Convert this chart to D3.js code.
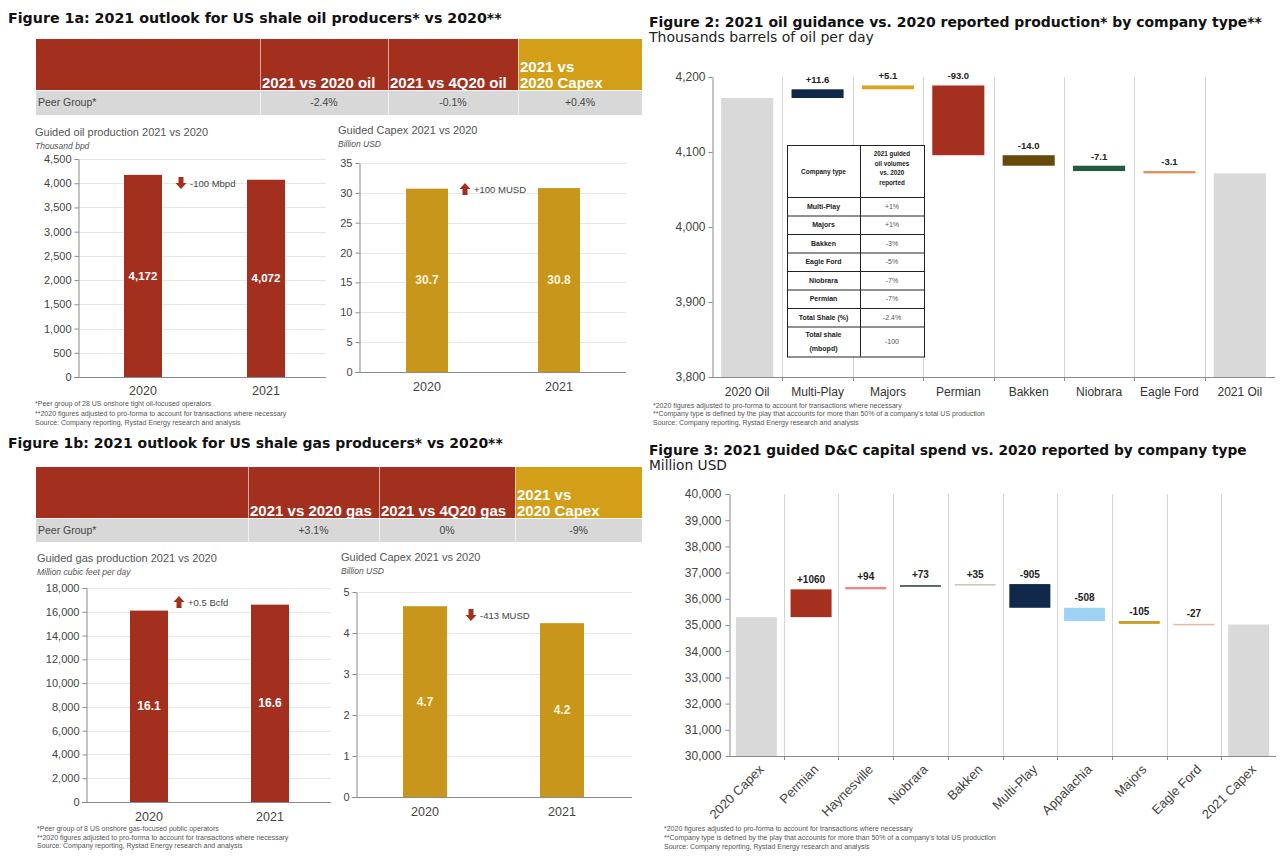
<!DOCTYPE html>
<html>
<head>
<meta charset="utf-8">
<script src="https://cdn.jsdelivr.net/npm/d3@7"></script>
<style>
html,body{margin:0;padding:0;background:#fff;}
svg{display:block;}
</style>
</head>
<body>
<svg id="chart" width="1280" height="860"></svg>
<script>
// ================= DATA =================
const years = ["2020", "2021"];

// Figure 1a – oil producers
const fig1aHeaders = [["2021 vs 2020 oil"], ["2021 vs 4Q20 oil"], ["2021 vs", "2020 Capex"]];
const fig1aPeerGroup = ["-2.4%", "-0.1%", "+0.4%"];
const oilProduction = [4172, 4072];            // thousand bpd
const oilProductionTicks = [0, 500, 1000, 1500, 2000, 2500, 3000, 3500, 4000, 4500];
const oilCapex = [30.7, 30.8];                 // billion USD
const oilCapexTicks = [0, 5, 10, 15, 20, 25, 30, 35];

// Figure 1b – gas producers
const fig1bHeaders = [["2021 vs 2020 gas"], ["2021 vs 4Q20 gas"], ["2021 vs", "2020 Capex"]];
const fig1bPeerGroup = ["+3.1%", "0%", "-9%"];
const gasProduction = [16100, 16600];          // million cubic feet per day
const gasProductionTicks = [0, 2000, 4000, 6000, 8000, 10000, 12000, 14000, 16000, 18000];
const gasCapex = [4.653, 4.240];               // billion USD
const gasCapexTicks = [0, 1, 2, 3, 4, 5];

// Figure 2 – oil guidance waterfall
const fig2Categories = ["2020 Oil", "Multi-Play", "Majors", "Permian", "Bakken", "Niobrara", "Eagle Ford", "2021 Oil"];
const fig2Start = 4172;
const fig2Deltas = [11.6, 5.1, -93.0, -14.0, -7.1, -3.1];
const fig2Colors = ["#10294a", "#d9a41e", "#a5301f", "#654a0c", "#235a44", "#e0915a"];
const fig2Ticks = [3800, 3900, 4000, 4100, 4200];
const fig2TableTypes = ["Multi-Play", "Majors", "Bakken", "Eagle Ford", "Niobrara", "Permian", "Total Shale (%)", "Total shale|(mbopd)"];
const fig2TableValues = ["+1%", "+1%", "-3%", "-5%", "-7%", "-7%", "-2.4%", "-100"];

// Figure 3 – D&C capex waterfall
const fig3Categories = ["2020 Capex", "Permian", "Haynesville", "Niobrara", "Bakken", "Multi-Play", "Appalachia", "Majors", "Eagle Ford", "2021 Capex"];
const fig3Start = 35300;
const fig3Deltas = [1060, 94, 73, 35, -905, -508, -105, -27];
const fig3Colors = ["#a5301f", "#e68a8c", "#56685f", "#c9c6b3", "#10294a", "#9ed3f5", "#c99a1c", "#e8b9a2"];
const fig3Ticks = [30000, 31000, 32000, 33000, 34000, 35000, 36000, 37000, 38000, 39000, 40000];

// ================= STYLE =================
const RED = "#a3301f", GOLD = "#c8961a", HGOLD = "#d39e18", GRAYROW = "#d8d8d8", TOTAL = "#d9d9d9";
const SANS = "'Liberation Sans', Arial, Helvetica, sans-serif";
const VERD = "'DejaVu Sans', Verdana, sans-serif";
const svg = d3.select("#chart");

function txt(g, x, y, s, o = {}) {
  const e = g.append("text").attr("x", x).attr("y", y).text(s)
    .attr("font-family", o.ff || SANS).attr("font-size", o.fs || 11)
    .attr("fill", o.fill || "#404040");
  if (o.fw) e.attr("font-weight", o.fw);
  if (o.it) e.attr("font-style", "italic");
  if (o.anchor) e.attr("text-anchor", o.anchor);
  if (o.fit) {
    const w = e.node().getComputedTextLength();
    if (w > 0) e.attr("font-size", (o.fs || 11) * o.fit / w);
  }
  return e;
}

function arrow(g, cx, cy, dir, color) {
  const p = dir === "down"
    ? `M${cx-2.5},${cy-6}h5v6h3l-5.5,6l-5.5,-6h3z`
    : `M${cx-2.5},${cy+6}h5v-6h3l-5.5,-6l-5.5,6h3z`;
  g.append("path").attr("d", p).attr("fill", color);
}

function styleAxis(sel, fs, fill) {
  sel.attr("font-family", SANS);
  sel.select(".domain").attr("stroke", "#8a8a8a");
  sel.selectAll(".tick line").attr("stroke", "#8a8a8a");
  sel.selectAll(".tick text").attr("font-family", SANS).attr("font-size", fs).attr("fill", fill);
}

function headerTable(g, c) {
  const e = c.edges;
  for (let i = 0; i < 4; i++) {
    g.append("rect").attr("x", e[i]).attr("y", c.top).attr("width", e[i + 1] - e[i]).attr("height", c.mid - c.top)
      .attr("fill", i === 3 ? HGOLD : RED);
    g.append("rect").attr("x", e[i]).attr("y", c.mid).attr("width", e[i + 1] - e[i]).attr("height", c.bottom - c.mid)
      .attr("fill", GRAYROW);
  }
  e.slice(1, 4).forEach(xv => g.append("line").attr("x1", xv + 0.5).attr("x2", xv + 0.5)
    .attr("y1", c.top).attr("y2", c.bottom).attr("stroke", "#fff").attr("stroke-opacity", 0.6));
  g.append("line").attr("x1", e[0]).attr("x2", e[4]).attr("y1", c.mid + 0.5).attr("y2", c.mid + 0.5)
    .attr("stroke", "#fff").attr("stroke-opacity", 0.8);
  c.headers.forEach((lines, i) => {
    lines.forEach((ln, j) => txt(g, e[i + 1] + 2, c.mid - 2.5 - (lines.length - 1 - j) * 16, ln,
      { fs: 15, fw: "bold", fill: "#fff" }));
  });
  const ty = (c.mid + c.bottom) / 2 + 3.5;
  txt(g, e[0] + 2, ty, "Peer Group*", { fs: 10.5, fill: "#444" });
  c.values.forEach((v, i) => txt(g, (e[i + 1] + e[i + 2]) / 2, ty, v, { fs: 10.5, fill: "#444", anchor: "middle" }));
}

function smallChart(g, c) {
  const max = c.ticks[c.ticks.length - 1];
  const y = d3.scaleLinear().domain([0, max]).range([c.y0, c.y1]);
  const x = d3.scaleBand().domain(years).range(c.xr);
  g.selectAll(null).data(c.ticks.slice(1)).join("line")
    .attr("x1", c.ax).attr("x2", c.gx).attr("y1", d => Math.round(y(d)) + 0.5).attr("y2", d => Math.round(y(d)) + 0.5)
    .attr("stroke", "#e6e6e6");
  g.selectAll(null).data(c.values).join("rect")
    .attr("x", (d, i) => x(years[i]) + x.bandwidth() / 2 - c.bw / 2)
    .attr("y", d => y(d)).attr("width", c.bw).attr("height", d => c.y0 - y(d))
    .attr("fill", c.color);
  g.append("line").attr("x1", c.ax - 4).attr("x2", c.gx).attr("y1", c.y0 + 0.5).attr("y2", c.y0 + 0.5).attr("stroke", "#8a8a8a");
  g.append("g").attr("transform", `translate(${c.ax + 0.5},0)`)
    .call(d3.axisLeft(y).tickValues(c.ticks).tickFormat(d3.format(",")).tickSize(4).tickSizeOuter(0).tickPadding(3))
    .call(s => styleAxis(s, 11, "#444"));
  years.forEach((yr, i) => {
    const cx = x(yr) + x.bandwidth() / 2;
    txt(g, cx, c.xlab, yr, { fs: 12.5, fill: "#444", anchor: "middle" });
    const v = c.values[i];
    txt(g, cx, (y(v) + c.y0) / 2 + 4, c.labelFmt(v), { fs: c.lfs, fw: "bold", fill: c.lfill, anchor: "middle" });
  });
  txt(g, c.tx, c.ty, c.title, { fs: 11, fill: "#555" });
  txt(g, c.tx, c.ty + 12.5, c.unit, { fs: 8.5, fill: "#555", it: true });
  arrow(g, c.arrow.x, c.arrow.y, c.arrow.dir, RED);
  txt(g, c.arrow.x + 9, c.arrow.y + 3.5, c.arrow.text, { fs: 9.5, fill: "#444" });
}

function footnotes(g, x, y0, lines, dy) {
  lines.forEach((l, i) => txt(g, x, y0 + i * dy, l, { fs: 7, fill: "#555" }));
}

function waterfall(g, c) {
  const x = d3.scaleBand().domain(c.cats).range(c.xr).paddingInner(0).paddingOuter(0);
  const y = d3.scaleLinear().domain([c.ticks[0], c.ticks[c.ticks.length - 1]]).range([c.y0, c.y1]);
  const bw = x.bandwidth() * c.barFrac;
  // vertical separators
  g.selectAll(null).data(c.cats.slice(1)).join("line")
    .attr("x1", d => Math.round(x(d)) + 0.5).attr("x2", d => Math.round(x(d)) + 0.5)
    .attr("y1", c.y1).attr("y2", c.y0).attr("stroke", "#d4d4d4");
  let run = c.start;
  const items = c.cats.map((k, i) => {
    if (i === 0) return { k, lo: c.ticks[0], hi: c.start, color: TOTAL };
    if (i === c.cats.length - 1) return { k, lo: c.ticks[0], hi: run, color: TOTAL };
    const d = c.deltas[i - 1], a = run;
    run += d;
    return { k, lo: Math.min(a, run), hi: Math.max(a, run), color: c.colors[i - 1], d };
  });
  g.selectAll(null).data(items).join("rect")
    .attr("x", d => x(d.k) + (x.bandwidth() - bw) / 2)
    .attr("y", d => y(d.hi)).attr("width", bw).attr("height", d => Math.max(1.5, y(d.lo) - y(d.hi)))
    .attr("fill", d => d.color);
  items.filter(d => d.d !== undefined).forEach(d => {
    txt(g, x(d.k) + x.bandwidth() / 2, y(d.hi) - c.labelGap, c.deltaFmt(d.d),
      { fs: c.lfs, fw: "bold", fill: "#222", anchor: "middle" });
  });
  // axes
  g.append("g").attr("transform", `translate(${c.xr[0] + 0.5},0)`)
    .call(d3.axisLeft(y).tickValues(c.ticks).tickFormat(d3.format(",")).tickSize(4).tickSizeOuter(0).tickPadding(c.tickPad))
    .call(s => styleAxis(s, c.tfs, "#444"));
  g.append("line").attr("x1", c.xr[0]).attr("x2", c.xr[1]).attr("y1", c.y0 + 0.5).attr("y2", c.y0 + 0.5).attr("stroke", "#8a8a8a");
  g.selectAll(null).data(c.cats.slice(1)).join("line")
    .attr("x1", d => Math.round(x(d)) + 0.5).attr("x2", d => Math.round(x(d)) + 0.5)
    .attr("y1", c.y0).attr("y2", c.y0 + 4).attr("stroke", "#8a8a8a");
  c.cats.forEach(k => {
    const cx = x(k) + x.bandwidth() / 2;
    if (c.rotate) {
      txt(g, 0, 0, k, { fs: c.xfs, fill: "#444", anchor: "end" })
        .attr("transform", `translate(${cx + 5},${c.y0 + 11}) rotate(-45)`).attr("dy", "0.35em");
    } else {
      txt(g, cx, c.xlab, k, { fs: c.xfs, fill: "#333", anchor: "middle" });
    }
  });
  return { x, y };
}

// ================= FIGURE 1a =================
const g1a = svg.append("g");
txt(g1a, 8, 23, "Figure 1a: 2021 outlook for US shale oil producers* vs 2020**", { ff: VERD, fs: 13, fw: "bold", fill: "#111", fit: 494 });
headerTable(g1a, { edges: [36, 260, 388, 518, 642], top: 39, mid: 90, bottom: 115, headers: fig1aHeaders, values: fig1aPeerGroup });
smallChart(g1a, {
  ticks: oilProductionTicks, values: oilProduction, y0: 377, y1: 159, ax: 78, gx: 326, xr: [81.5, 327.5], bw: 38,
  color: RED, labelFmt: d3.format(","), lfs: 11.5, lfill: "#fff", xlab: 395,
  title: "Guided oil production 2021 vs 2020", unit: "Thousand bpd", tx: 35, ty: 136,
  arrow: { dir: "down", x: 181, y: 183, text: "-100 Mbpd" }
});
smallChart(g1a, {
  ticks: oilCapexTicks, values: oilCapex, y0: 372, y1: 163, ax: 359, gx: 626, xr: [361, 625], bw: 42,
  color: GOLD, labelFmt: d3.format(".1f"), lfs: 12, lfill: "#fff6dc", xlab: 391,
  title: "Guided Capex 2021 vs 2020", unit: "Billion USD", tx: 338, ty: 134,
  arrow: { dir: "up", x: 465, y: 189, text: "+100 MUSD" }
});
footnotes(g1a, 35, 406, [
  "*Peer group of 28 US onshore tight oil-focused operators",
  "**2020 figures adjusted to pro-forma to account for transactions where necessary",
  "Source: Company reporting, Rystad Energy research and analysis"], 9.5);

// ================= FIGURE 1b =================
const g1b = svg.append("g");
txt(g1b, 8, 448, "Figure 1b: 2021 outlook for US shale gas producers* vs 2020**", { ff: VERD, fs: 13, fw: "bold", fill: "#111", fit: 495 });
headerTable(g1b, { edges: [36, 248, 379, 515, 642], top: 467, mid: 518, bottom: 542, headers: fig1bHeaders, values: fig1bPeerGroup });
smallChart(g1b, {
  ticks: gasProductionTicks, values: gasProduction, y0: 802, y1: 588, ax: 86, gx: 331, xr: [88.5, 330.5], bw: 38,
  color: RED, labelFmt: v => d3.format(".1f")(v / 1000), lfs: 12, lfill: "#fff", xlab: 821,
  title: "Guided gas production 2021 vs 2020", unit: "Million cubic feet per day", tx: 37, ty: 562,
  arrow: { dir: "up", x: 179, y: 602, text: "+0.5 Bcfd" }
});
smallChart(g1b, {
  ticks: gasCapexTicks, values: gasCapex, y0: 797, y1: 592, ax: 356, gx: 632, xr: [356.5, 630.5], bw: 44,
  color: GOLD, labelFmt: d3.format(".1f"), lfs: 12, lfill: "#fff6dc", xlab: 816,
  title: "Guided Capex 2021 vs 2020", unit: "Billion USD", tx: 341, ty: 561,
  arrow: { dir: "down", x: 471, y: 615, text: "-413 MUSD" }
});
footnotes(g1b, 37, 831, [
  "*Peer group of 8 US onshore gas-focused public operators",
  "**2020 figures adjusted to pro-forma to account for transactions where necessary",
  "Source: Company reporting, Rystad Energy research and analysis"], 8.5);

// ================= FIGURE 2 =================
const g2 = svg.append("g");
txt(g2, 649, 27, "Figure 2: 2021 oil guidance vs. 2020 reported production* by company type**", { ff: VERD, fs: 13, fw: "bold", fill: "#111", fit: 613 });
txt(g2, 649, 42, "Thousands barrels of oil per day", { ff: VERD, fs: 13, fill: "#222", fit: 225 });
waterfall(g2, {
  cats: fig2Categories, start: fig2Start, deltas: fig2Deltas, colors: fig2Colors, ticks: fig2Ticks,
  xr: [712, 1275], y0: 377, y1: 77, barFrac: 0.74, labelGap: 6, lfs: 9.5,
  deltaFmt: v => (v > 0 ? "+" : "-") + Math.abs(v).toFixed(1),
  tfs: 12, tickPad: 3, xfs: 12, xlab: 396, rotate: false
});
// inset table
(function () {
  const tx = [787, 860, 924];
  const top = 145, headBottom = 197, rowH = 18.5;
  const rowsY = [headBottom];
  fig2TableTypes.forEach((t, i) => rowsY.push(rowsY[i] + (i === fig2TableTypes.length - 1 ? 30 : rowH)));
  const bottom = rowsY[rowsY.length - 1];
  g2.append("rect").attr("x", tx[0] + 0.5).attr("y", top + 0.5).attr("width", tx[2] - tx[0]).attr("height", bottom - top)
    .attr("fill", "#fff").attr("stroke", "#222").attr("stroke-width", 1);
  g2.append("line").attr("x1", tx[1] + 0.5).attr("x2", tx[1] + 0.5).attr("y1", top).attr("y2", bottom).attr("stroke", "#222");
  rowsY.slice(0, -1).forEach(yv => g2.append("line").attr("x1", tx[0]).attr("x2", tx[2]).attr("y1", yv + 0.5).attr("y2", yv + 0.5).attr("stroke", "#222"));
  const c1 = (tx[0] + tx[1]) / 2, c2 = (tx[1] + tx[2]) / 2;
  txt(g2, c1, (top + headBottom) / 2 + 2.5, "Company type", { fs: 6.5, fw: "bold", fill: "#222", anchor: "middle" });
  ["2021 guided", "oil volumes", "vs. 2020", "reported"].forEach((l, i) =>
    txt(g2, c2, 156 + i * 9.5, l, { fs: 6.3, fw: "bold", fill: "#222", anchor: "middle" }));
  fig2TableTypes.forEach((t, i) => {
    const ym = (rowsY[i] + rowsY[i + 1]) / 2;
    const parts = t.split("|");
    parts.forEach((p, j) => txt(g2, c1, ym + 2.5 + (j - (parts.length - 1) / 2) * 14, p, { fs: 7, fw: "bold", fill: "#222", anchor: "middle" }));
    txt(g2, c2, ym + 2.5, fig2TableValues[i], { fs: 7, fill: "#555", anchor: "middle" });
  });
})();
footnotes(g2, 653, 408, [
  "*2020 figures adjusted to pro-forma to account for transactions where necessary",
  "**Company type is defined by the play that accounts for more than 50% of a company's total US production",
  "Source: Company reporting, Rystad Energy research and analysis"], 8.3);

// ================= FIGURE 3 =================
const g3 = svg.append("g");
txt(g3, 649, 455, "Figure 3: 2021 guided D&C capital spend vs. 2020 reported by company type", { ff: VERD, fs: 13, fw: "bold", fill: "#111", fit: 598 });
txt(g3, 649, 470, "Million USD", { ff: VERD, fs: 13, fill: "#222", fit: 78 });
waterfall(g3, {
  cats: fig3Categories, start: fig3Start, deltas: fig3Deltas, colors: fig3Colors, ticks: fig3Ticks,
  xr: [729, 1276], y0: 756, y1: 494, barFrac: 0.75, labelGap: 6.5, lfs: 10,
  deltaFmt: v => (v > 0 ? "+" : "-") + Math.abs(v),
  tfs: 12, tickPad: 4, xfs: 13, rotate: true
});
footnotes(g3, 664, 830.5, [
  "*2020 figures adjusted to pro-forma to account for transactions where necessary",
  "**Company type is defined by the play that accounts for more than 50% of a company's total US production",
  "Source: Company reporting, Rystad Energy research and analysis"], 9.2);
</script>
</body>
</html>
